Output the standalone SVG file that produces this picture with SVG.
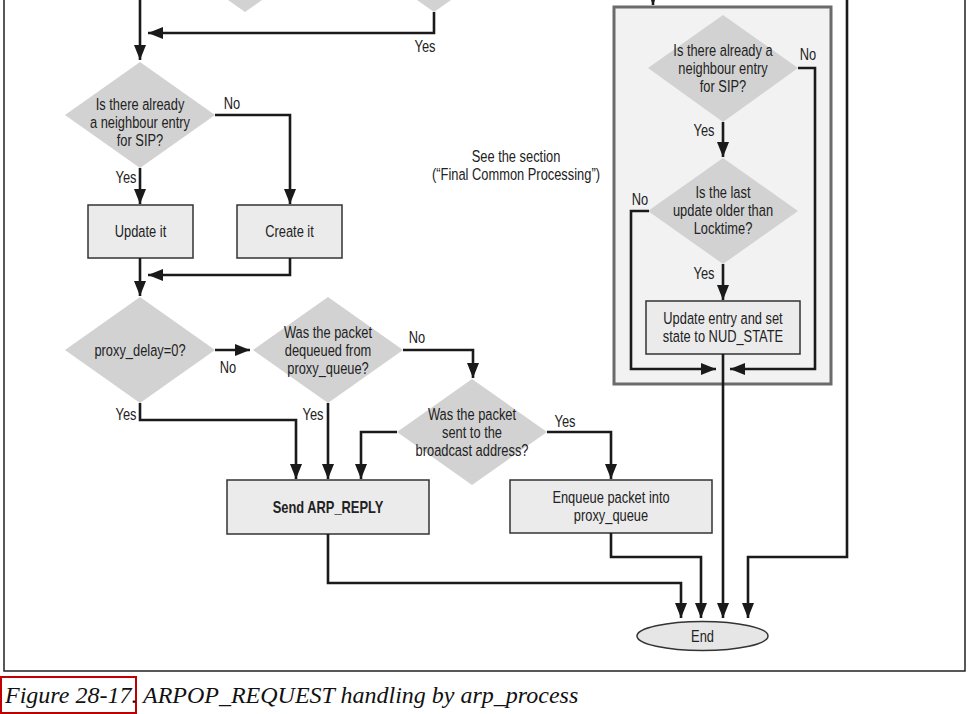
<svg xmlns="http://www.w3.org/2000/svg" width="973" height="714" viewBox="0 0 973 714">
<style>
text{font-family:"Liberation Sans",Arial,sans-serif;font-size:16.5px;fill:#222;text-anchor:middle}
.b{font-weight:bold}
.dia{fill:#d2d2d2;stroke:none}
.box{fill:#ebebeb;stroke:#333;stroke-width:1.5}
.c{fill:none;stroke:#1a1a1a;stroke-width:2.6}
.cap{font-family:"Liberation Serif",serif;font-style:italic;font-size:24px;text-anchor:start;fill:#111}
</style>
<defs>
<marker id="ah" markerUnits="userSpaceOnUse" markerWidth="15" markerHeight="12" refX="15" refY="6" orient="auto">
<path d="M0,0 L15,6 L0,12 z" fill="#1a1a1a"/>
</marker>
</defs>
<rect width="973" height="714" fill="#fff"/>
<path d="M4,0 V671 H965 V0" fill="none" stroke="#222" stroke-width="1.5"/>

<g id="common">
<rect x="614" y="7" width="217" height="377" fill="#f2f2f2" stroke="#6b6b6b" stroke-width="3"/>
</g>

<g id="topdia1"><polygon class="dia" points="245,12 170,-41 245,-94 320,-41"/></g>
<g id="topdia2"><polygon class="dia" points="434,12 359,-41 434,-94 509,-41"/></g>

<g id="d_sip">
<polygon class="dia" points="140,62 215,115 140,168 65,115"/>
<text transform="translate(140,110) scale(.78,1)">Is there already</text>
<text transform="translate(140,128) scale(.78,1)">a neighbour entry</text>
<text transform="translate(140,146) scale(.78,1)">for SIP?</text>
</g>
<g id="update">
<rect class="box" x="88" y="205" width="105" height="53"/>
<text transform="translate(140.5,237) scale(.78,1)">Update it</text>
</g>
<g id="create">
<rect class="box" x="237" y="205" width="105" height="53"/>
<text transform="translate(289.5,237) scale(.78,1)">Create it</text>
</g>
<g id="d_proxy">
<polygon class="dia" points="140,297 215,350 140,403 65,350"/>
<text transform="translate(140,356) scale(.78,1)">proxy_delay=0?</text>
</g>
<g id="d_deq">
<polygon class="dia" points="328,297 403,350 328,403 253,350"/>
<text transform="translate(328,338) scale(.78,1)">Was the packet</text>
<text transform="translate(328,356) scale(.78,1)">dequeued from</text>
<text transform="translate(328,374) scale(.78,1)">proxy_queue?</text>
</g>
<g id="d_bcast">
<polygon class="dia" points="472,379 547,432 472,485 397,432"/>
<text transform="translate(472,420) scale(.78,1)">Was the packet</text>
<text transform="translate(472,438) scale(.78,1)">sent to the</text>
<text transform="translate(472,456) scale(.78,1)">broadcast address?</text>
</g>
<g id="send">
<rect class="box" x="227" y="480" width="202" height="54"/>
<text class="b" transform="translate(328,513) scale(.78,1)">Send ARP_REPLY</text>
</g>
<g id="enqueue">
<rect class="box" x="510" y="480" width="202" height="53"/>
<text transform="translate(611,503) scale(.78,1)">Enqueue packet into</text>
<text transform="translate(611,521) scale(.78,1)">proxy_queue</text>
</g>
<g id="end">
<ellipse cx="702.5" cy="636" rx="65.5" ry="14.5" fill="#e6e6e6" stroke="#333" stroke-width="1.5"/>
<text transform="translate(702.5,642) scale(.78,1)">End</text>
</g>
<g id="d_sip2">
<polygon class="dia" points="723,15 798,68 723,122 648,68"/>
<text transform="translate(723,56) scale(.78,1)">Is there already a</text>
<text transform="translate(723,74) scale(.78,1)">neighbour entry</text>
<text transform="translate(723,92) scale(.78,1)">for SIP?</text>
</g>
<g id="d_lock">
<polygon class="dia" points="723,158 798,211 723,264 648,211"/>
<text transform="translate(723,198) scale(.78,1)">Is the last</text>
<text transform="translate(723,216) scale(.78,1)">update older than</text>
<text transform="translate(723,234) scale(.78,1)">Locktime?</text>
</g>
<g id="upentry">
<rect class="box" x="646" y="301" width="154" height="53"/>
<text transform="translate(723,324) scale(.78,1)">Update entry and set</text>
<text transform="translate(723,342) scale(.78,1)">state to NUD_STATE</text>
</g>
<g id="note">
<text transform="translate(516,162) scale(.78,1)">See the section</text>
<text transform="translate(516,180) scale(.78,1)">(“Final Common Processing”)</text>
</g>

<g id="connectors">
<path class="c" d="M140,0 V60" marker-end="url(#ah)"/>
<path class="c" d="M434,12 V33 H148" marker-end="url(#ah)"/>
<path class="c" d="M215,115 H290 V204" marker-end="url(#ah)"/>
<path class="c" d="M140,168 V204" marker-end="url(#ah)"/>
<path class="c" d="M290,258 V275 H148" marker-end="url(#ah)"/>
<path class="c" d="M140,258 V296" marker-end="url(#ah)"/>
<path class="c" d="M215,350 H250" marker-end="url(#ah)"/>
<path class="c" d="M403,350 H473 V378" marker-end="url(#ah)"/>
<path class="c" d="M140,403 V420 H296 V479" marker-end="url(#ah)"/>
<path class="c" d="M328,403 V479" marker-end="url(#ah)"/>
<path class="c" d="M397,432 H361 V479" marker-end="url(#ah)"/>
<path class="c" d="M547,432 H611 V479" marker-end="url(#ah)"/>
<path class="c" d="M328,534 V583 H681 V618" marker-end="url(#ah)"/>
<path class="c" d="M611,533 V557 H701 V618" marker-end="url(#ah)"/>
<path class="c" d="M723,354 V618" marker-end="url(#ah)"/>
<path class="c" d="M847,0 V557 H748 V618" marker-end="url(#ah)"/>
<path class="c" d="M653,-20 V5" marker-end="url(#ah)"/>
<path class="c" d="M798,68 H815 V369 H730" marker-end="url(#ah)"/>
<path class="c" d="M723,122 V157" marker-end="url(#ah)"/>
<path class="c" d="M649,211 H631 V369 H716" marker-end="url(#ah)"/>
<path class="c" d="M723,264 V300" marker-end="url(#ah)"/>
</g>

<g id="labels">
<text transform="translate(425,52) scale(.78,1)">Yes</text>
<text transform="translate(232,109) scale(.78,1)">No</text>
<text transform="translate(126,183) scale(.78,1)">Yes</text>
<text transform="translate(228,373) scale(.78,1)">No</text>
<text transform="translate(417,343) scale(.78,1)">No</text>
<text transform="translate(126,420) scale(.78,1)">Yes</text>
<text transform="translate(313,420) scale(.78,1)">Yes</text>
<text transform="translate(565,427) scale(.78,1)">Yes</text>
<text transform="translate(808,60) scale(.78,1)">No</text>
<text transform="translate(704,136) scale(.78,1)">Yes</text>
<text transform="translate(640,205) scale(.78,1)">No</text>
<text transform="translate(704,279) scale(.78,1)">Yes</text>
</g>

<g id="caption">
<rect x="1" y="677" width="135" height="36" fill="none" stroke="#c00000" stroke-width="2"/>
<text class="cap" x="5" y="703">Figure 28-17. ARPOP_REQUEST handling by arp_process</text>
</g>
</svg>
